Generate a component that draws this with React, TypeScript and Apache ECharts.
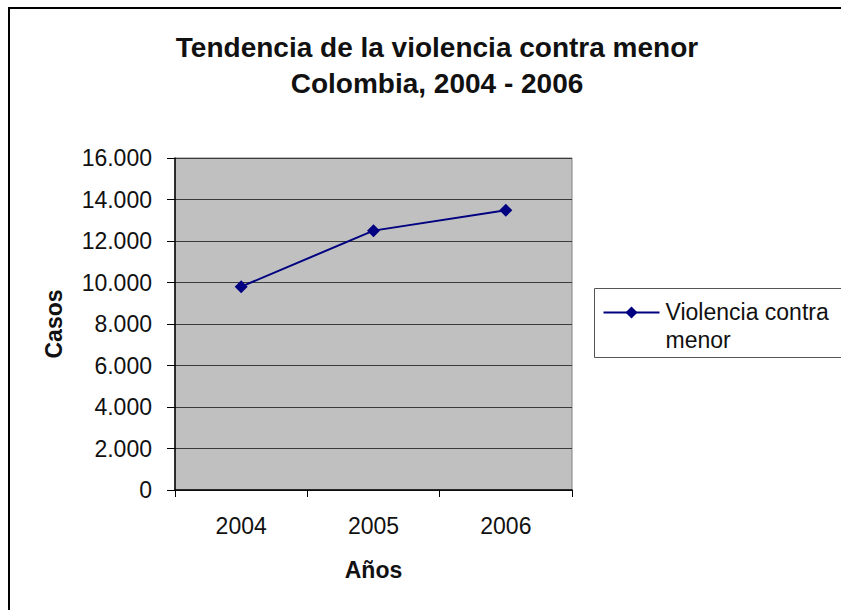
import React, { useEffect, useRef } from "react";
import * as echarts from "echarts";

const titleLines = ["Tendencia de la violencia contra menor", "Colombia, 2004 - 2006"];
const years = ["2004", "2005", "2006"];
const seriesName = "Violencia contra menor";
const casos = [9800, 12500, 13480];
const yMin = 0;
const yMax = 16000;
const yStep = 2000;
const xAxisTitle = "Años";
const yAxisTitle = "Casos";

const FONT = "'Liberation Sans', Arial, sans-serif";
const NAVY = "#000080";

function fmt(v: number): string {
  return String(Math.round(v)).replace(/\B(?=(\d{3})+(?!\d))/g, ".");
}

export default function App() {
  const ref = useRef<HTMLDivElement>(null);
  useEffect(() => {
    if (!ref.current) return;
    const chart = echarts.init(ref.current, null, { renderer: "svg" });
    chart.setOption({
      animation: false,
      backgroundColor: "#ffffff",
      textStyle: { fontFamily: FONT },
      title: {
        text: titleLines.join("\n"),
        left: 432,
        textAlign: "center",
        top: 24,
        textStyle: {
          fontFamily: FONT,
          fontWeight: "bold",
          fontSize: 28,
          lineHeight: 36,
          color: "#111",
        },
      },
      grid: {
        left: 175,
        top: 158,
        width: 397,
        height: 332,
        show: true,
        backgroundColor: "#c0c0c0",
        borderColor: "#808080",
        borderWidth: 1,
      },
      xAxis: {
        type: "category",
        data: years,
        boundaryGap: true,
        name: xAxisTitle,
        nameLocation: "middle",
        nameGap: 68,
        nameTextStyle: { fontFamily: FONT, fontWeight: "bold", fontSize: 23, color: "#111" },
        axisLine: { lineStyle: { color: "#000", width: 1.5 } },
        axisTick: { show: true, length: 7, lineStyle: { color: "#000" } },
        axisLabel: { margin: 24, fontSize: 23, color: "#111", fontFamily: FONT },
        splitLine: { show: false },
      },
      yAxis: {
        type: "value",
        min: yMin,
        max: yMax,
        interval: yStep,
        name: yAxisTitle,
        nameLocation: "middle",
        nameGap: 110,
        nameTextStyle: { fontFamily: FONT, fontWeight: "bold", fontSize: 23, color: "#111" },
        axisLine: { show: true, lineStyle: { color: "#000", width: 1.5 } },
        axisTick: { show: true, length: 8, lineStyle: { color: "#000" } },
        axisLabel: {
          margin: 23,
          fontSize: 23,
          color: "#111",
          fontFamily: FONT,
          formatter: (v: number) => fmt(v),
        },
        splitLine: { show: true, lineStyle: { color: "#3a3a3a", width: 1 } },
      },
      series: [
        {
          name: seriesName,
          type: "line",
          data: casos,
          symbol: "diamond",
          symbolSize: 13,
          lineStyle: { color: NAVY, width: 2 },
          itemStyle: { color: NAVY },
        },
      ],
      graphic: [
        {
          type: "rect",
          shape: { x: 9, y: 8, width: 900, height: 700 },
          style: { fill: "none", stroke: "#000", lineWidth: 2 },
          silent: true,
        },
        {
          type: "group",
          left: 594,
          top: 288,
          children: [
            {
              type: "rect",
              shape: { x: 0, y: 0, width: 300, height: 69 },
              style: { fill: "#fff", stroke: "#555", lineWidth: 1 },
            },
            {
              type: "line",
              shape: { x1: 9, y1: 24, x2: 65, y2: 24 },
              style: { stroke: NAVY, lineWidth: 2 },
            },
            {
              type: "polygon",
              shape: { points: [[37, 18], [43, 24], [37, 30], [31, 24]] },
              style: { fill: NAVY },
            },
            {
              type: "text",
              x: 71,
              y: 9,
              style: {
                text: "Violencia contra\nmenor",
                fontFamily: FONT,
                fontSize: 23,
                lineHeight: 28,
                fill: "#111",
              },
            },
          ],
        },
      ],
    });
    return () => chart.dispose();
  }, []);
  return (
    <div
      ref={ref}
      style={{ position: "fixed", left: 0, top: 0, width: 841, height: 610 }}
    />
  );
}
